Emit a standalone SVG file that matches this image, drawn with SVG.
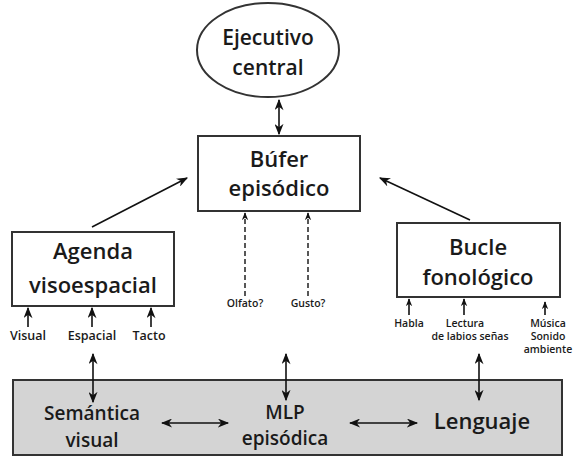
<svg xmlns="http://www.w3.org/2000/svg" width="582" height="459" viewBox="0 0 582 459">
<defs>
<marker id="ah" viewBox="0 0 10 8" refX="9" refY="4" markerWidth="12" markerHeight="9" markerUnits="userSpaceOnUse" orient="auto-start-reverse">
<path d="M0,0 L10,4 L0,8 L3,4 z" fill="#111"/>
</marker>
<marker id="ahs" viewBox="0 0 10 8" refX="9" refY="4" markerWidth="8" markerHeight="7" markerUnits="userSpaceOnUse" orient="auto-start-reverse">
<path d="M0,0 L10,4 L0,8 L3,4 z" fill="#111"/>
</marker>
</defs>
<style>
.box{fill:#fff;stroke:#333;stroke-width:2}
.gray{fill:#d4d4d4;stroke:#333;stroke-width:2}
.t{font-family:"Open Sans","Liberation Sans",sans-serif;fill:#1a1a1a;text-anchor:middle;font-weight:600}
.big{font-size:22px}
.mid{font-size:19px}
.s13{font-size:12.5px}
.s11{font-size:10.5px}
.c{stroke:#111;stroke-width:1.6;fill:none}
.d{stroke:#111;stroke-width:1.4;fill:none;stroke-dasharray:5,3}
</style>
<rect width="582" height="459" fill="#fff"/>
<g id="mlp">
<rect class="gray" x="13" y="380" width="549" height="75"/>
<text class="t mid" x="92" y="420">Semántica</text>
<text class="t mid" x="92" y="447">visual</text>
<text class="t mid" x="285" y="419">MLP</text>
<text class="t mid" x="285" y="445">episódica</text>
<text class="t" style="font-size:22px" x="482" y="429">Lenguaje</text>
</g>
<g id="ejecutivo">
<ellipse class="box" cx="268" cy="50" rx="71" ry="47"/>
<text class="t" style="font-size:21px" x="268" y="45">Ejecutivo</text>
<text class="t" style="font-size:21px" x="268" y="75">central</text>
</g>
<g id="bufer">
<rect class="box" x="198" y="136" width="162" height="75"/>
<text class="t big" x="279" y="167">Búfer</text>
<text class="t big" x="279" y="196">episódico</text>
</g>
<g id="agenda">
<rect class="box" x="12" y="232" width="162" height="74"/>
<text class="t big" x="93" y="259">Agenda</text>
<text class="t big" x="93" y="293">visoespacial</text>
</g>
<g id="bucle">
<rect class="box" x="397" y="223" width="163" height="74"/>
<text class="t big" x="478" y="255">Bucle</text>
<text class="t big" x="478" y="285">fonológico</text>
</g>
<g id="labels">
<text class="t s13" x="28" y="340">Visual</text>
<text class="t s13" x="92" y="340">Espacial</text>
<text class="t s13" x="149" y="340">Tacto</text>
<text class="t s11" x="245" y="307">Olfato?</text>
<text class="t s11" x="308" y="307">Gusto?</text>
<text class="t s11" x="409" y="327">Habla</text>
<text class="t s11" x="465" y="327">Lectura</text>
<text class="t s11" x="470" y="340">de labios señas</text>
<text class="t s11" x="548" y="327">Música</text>
<text class="t s11" x="548" y="340">Sonido</text>
<text class="t s11" x="548" y="353">ambiente</text>
</g>
<g id="connectors">
<line class="c" x1="279" y1="100" x2="279" y2="134" marker-start="url(#ah)" marker-end="url(#ah)"/>
<line class="c" x1="92" y1="227" x2="187" y2="178" marker-end="url(#ah)"/>
<line class="c" x1="470" y1="220" x2="380" y2="178" marker-end="url(#ah)"/>
<line class="d" x1="245" y1="296" x2="245" y2="213" marker-end="url(#ahs)"/>
<line class="d" x1="308" y1="296" x2="308" y2="213" marker-end="url(#ahs)"/>
<line class="c" x1="28" y1="327" x2="28" y2="308" marker-end="url(#ah)"/>
<line class="c" x1="92" y1="327" x2="92" y2="308" marker-end="url(#ah)"/>
<line class="c" x1="151" y1="327" x2="151" y2="308" marker-end="url(#ah)"/>
<line class="c" x1="409" y1="315" x2="409" y2="299" stroke-width="1.2" marker-end="url(#ahs)"/>
<line class="c" x1="464" y1="315" x2="464" y2="299" stroke-width="1.2" marker-end="url(#ahs)"/>
<line class="c" x1="545" y1="315" x2="545" y2="302" stroke-width="1" marker-end="url(#ahs)"/>
<line class="c" x1="93" y1="354" x2="93" y2="402" marker-start="url(#ah)" marker-end="url(#ah)"/>
<line class="c" x1="286" y1="354" x2="286" y2="400" marker-start="url(#ah)" marker-end="url(#ah)"/>
<line class="c" x1="479" y1="354" x2="479" y2="400" marker-start="url(#ah)" marker-end="url(#ah)"/>
<line class="c" x1="162" y1="423" x2="228" y2="423" marker-start="url(#ah)" marker-end="url(#ah)"/>
<line class="c" x1="350" y1="423" x2="417" y2="423" marker-start="url(#ah)" marker-end="url(#ah)"/>
</g>
</svg>
